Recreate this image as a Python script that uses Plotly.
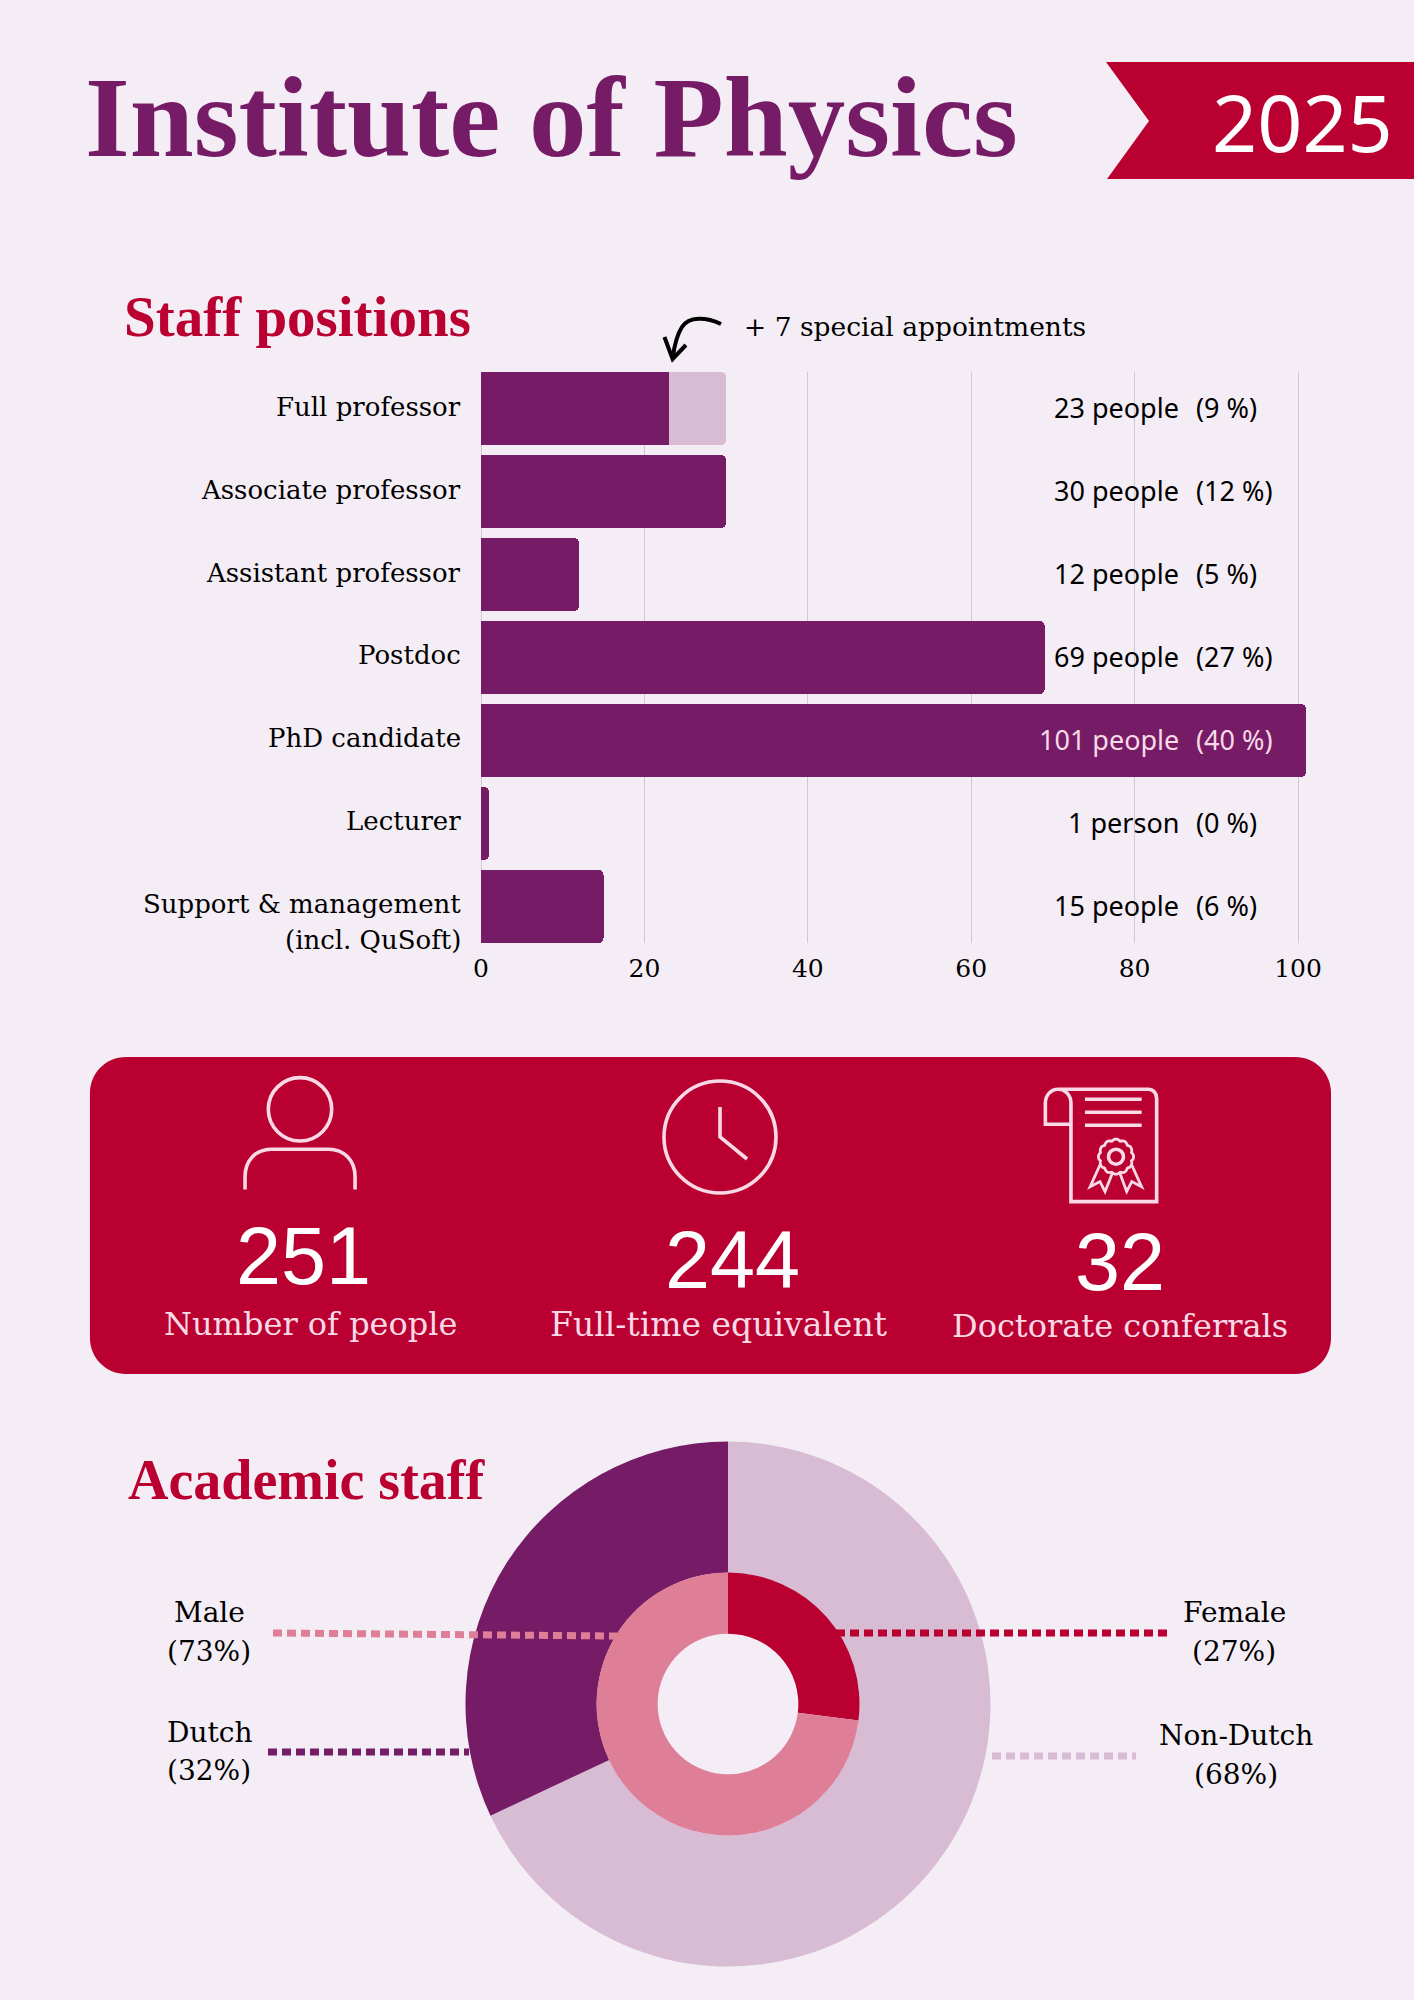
import numpy as np
import plotly.graph_objects as go

W, H = 1414, 2000

# colours
BG = '#F5EDF5'
PURPLE = '#761C66'
CRIMSON = '#B90030'
LILAC = '#D7BCD3'
ROSE = '#DE7F97'
PALE = '#FAD9E6'
GRID = '#CFC9D1'

SERIF = 'DejaVu Serif'
HEAD = 'Liberation Serif'
SANS = 'Noto Sans'

# data
positions = ['Full professor', 'Associate professor', 'Assistant professor', 'Postdoc',
             'PhD candidate', 'Lecturer', 'Support & management']
regular = [23, 30, 12, 69, 101, 1, 15]
special = [7, None, None, None, None, None, None]
people_text = ['23 people', '30 people', '12 people', '69 people', '101 people', '1 person', '15 people']
share_text = ['(9 %)', '(12 %)', '(5 %)', '(27 %)', '(40 %)', '(0 %)', '(6 %)']
x_ticks = [0, 20, 40, 60, 80, 100]

gender_labels = ['Female', 'Male']
gender_values = [27, 73]
origin_labels = ['Non-Dutch', 'Dutch']
origin_values = [68, 32]

stat_numbers = ['251', '244', '32']
stat_labels = ['Number of people', 'Full-time equivalent', 'Doctorate conferrals']


def px(x):
    return x / W


def py(y):
    return 1 - y / H


def label(x, y, s, size, color='black', family=SERIF, anchor='center', bold=False):
    return dict(x=px(x), y=py(y), xref='paper', yref='paper', text='<b>%s</b>' % s if bold else s,
                showarrow=False, xanchor=anchor, yanchor='middle',
                font=dict(size=size, color=color, family=family))


def path_shape(path, color, width=3.6, fill=None):
    return dict(type='path', path=path, xref='paper', yref='paper', layer='above',
                line=dict(color=color, width=width), fillcolor=fill or 'rgba(0,0,0,0)')


def P(*pts):
    # pixel points to a plain polyline path
    return 'M' + ' L'.join('%.4f,%.4f' % (px(a), py(b)) for a, b in pts)


def curve(start, *segs):
    s = 'M%.4f,%.4f' % (px(start[0]), py(start[1]))
    for seg in segs:
        if len(seg) == 2:
            s += ' L%.4f,%.4f' % (px(seg[0]), py(seg[1]))
        else:
            s += ' C%.4f,%.4f %.4f,%.4f %.4f,%.4f' % (px(seg[0]), py(seg[1]), px(seg[2]), py(seg[3]), px(seg[4]), py(seg[5]))
    return s


def circle(cx, cy, r, color, width=3.6):
    return dict(type='circle', xref='paper', yref='paper', layer='above',
                x0=px(cx - r), x1=px(cx + r), y0=py(cy + r), y1=py(cy - r),
                line=dict(color=color, width=width), fillcolor='rgba(0,0,0,0)')


def leader(x0, y0, x1, y1, color):
    return dict(type='line', xref='paper', yref='paper', layer='above',
                x0=px(x0), x1=px(x1), y0=py(y0), y1=py(y1),
                line=dict(color=color, width=7, dash='9px,5px'))


def pie_domain(cx, cy, r):
    return dict(x=[px(cx - r), px(cx + r)], y=[py(cy + r), py(cy - r)])


fig = go.Figure()

fig.add_trace(go.Bar(y=positions, x=regular, orientation='h', marker=dict(color=PURPLE, line=dict(width=0)),
                     name='Regular'))
fig.add_trace(go.Bar(y=positions, x=special, orientation='h', marker=dict(color=LILAC, line=dict(width=0)),
                     name='Special appointments'))

PIE_X, PIE_Y = 728, 1704
fig.add_trace(go.Pie(labels=origin_labels, values=origin_values, sort=False, direction='clockwise', rotation=0,
                     hole=0.5, domain=pie_domain(PIE_X, PIE_Y, 262.5), textinfo='none',
                     marker=dict(colors=[LILAC, PURPLE], line=dict(width=0))))
fig.add_trace(go.Pie(labels=gender_labels, values=gender_values, sort=False, direction='clockwise', rotation=0,
                     hole=0.535, domain=pie_domain(PIE_X, PIE_Y, 131.5), textinfo='none',
                     marker=dict(colors=[CRIMSON, ROSE], line=dict(width=0))))

shapes = []
# year ribbon and stat card
shapes.append(dict(type='path', xref='paper', yref='paper', layer='below', line=dict(width=0), fillcolor=CRIMSON,
                   path=P((1106, 62), (1414, 62), (1414, 179), (1107, 179), (1149, 121)) + ' Z'))
R = 36
shapes.append(dict(type='path', xref='paper', yref='paper', layer='below', line=dict(width=0), fillcolor=CRIMSON,
                   path=curve((90 + R, 1057), (1331 - R, 1057), (1331 - 16, 1057, 1331, 1073, 1331, 1057 + R),
                              (1331, 1374 - R), (1331, 1358, 1315, 1374, 1331 - R, 1374), (90 + R, 1374),
                              (106, 1374, 90, 1358, 90, 1374 - R), (90, 1057 + R),
                              (90, 1073, 106, 1057, 90 + R, 1057)) + ' Z'))

# person icon
shapes.append(circle(300, 1109.3, 31.7, PALE))
shapes.append(path_shape(curve((245, 1189.3), (245, 1176.7), (245, 1160, 256, 1149.3, 271.7, 1149.3),
                               (328.3, 1149.3), (344, 1149.3, 355, 1160, 355, 1176.7), (355, 1189.3)), PALE))
# clock icon
shapes.append(circle(720, 1137, 56, PALE))
shapes.append(path_shape(P((720, 1107), (720, 1137), (747, 1159)), PALE))
# certificate icon
shapes.append(path_shape(curve((1058.3, 1089.3), (1148.3, 1089.3), (1153, 1089.3, 1156.7, 1093, 1156.7, 1098.3),
                               (1156.7, 1201.7), (1071, 1201.7), (1071, 1103.3),
                               (1071, 1095, 1065, 1089.3, 1058.3, 1089.3),
                               (1051, 1089.3, 1045.3, 1095, 1045.3, 1103.3), (1045.3, 1124.3), (1071, 1124.3)), PALE))
for yy in [1099.3, 1112.3, 1125.3]:
    shapes.append(path_shape(P((1085, yy), (1141.7, yy)), PALE))
shapes.append(circle(1116, 1156.7, 7.5, PALE))
ang = np.linspace(0, 2 * np.pi, 97)
rad = 16 + 1.6 * np.abs(np.cos(ang * 6))
shapes.append(path_shape(P(*zip(1116 + rad * np.sin(ang), 1156.7 + rad * np.cos(ang))), PALE, width=2.8))
shapes.append(path_shape(P((1100, 1165), (1090, 1186.7), (1100, 1181.7), (1105, 1191.7), (1112.3, 1173.3)), PALE, width=2.8))
shapes.append(path_shape(P((1131.7, 1165), (1141.7, 1186.7), (1131.7, 1181.7), (1126.7, 1191.7), (1120, 1173.3)), PALE, width=2.8))

# arrow towards the special appointments
shapes.append(path_shape(curve((721, 324), (706, 317, 689, 316, 682, 327), (676, 336, 674, 348, 672.7, 358)), 'black', width=4))
shapes.append(path_shape(P((664.5, 337), (672.7, 359), (686, 345)), 'black', width=4))

# leader lines of the donut
shapes.append(leader(273, 1633, 617, 1636, ROSE))
shapes.append(leader(836, 1633, 1169, 1633, CRIMSON))
shapes.append(leader(268, 1752, 469, 1752, PURPLE))
shapes.append(leader(992, 1756, 1136, 1756, LILAC))

ann = []
ann.append(label(83, 118, 'Institute of Physics', 115, PURPLE, HEAD, 'left', True))
ann.append(label(1302, 121, '2025', 79, 'white', SANS))
ann.append(label(122, 317, 'Staff positions', 57, CRIMSON, HEAD, 'left', True))
ann.append(label(742, 326, '+ 7 special appointments', 26.5, 'black', SERIF, 'left'))

for name in positions:
    ann.append(dict(x=0, y=name, xref='x', yref='y', text=name, showarrow=False, xanchor='right', yanchor='middle',
                    xshift=-18, yshift=2, font=dict(size=26, family=SERIF, color='black')))
ann.append(dict(x=0, y=positions[-1], xref='x', yref='y', text='(incl. QuSoft)', showarrow=False, xanchor='right',
                yanchor='middle', xshift=-18, yshift=-34, font=dict(size=26, family=SERIF, color='black')))

for name, who, share in zip(positions, people_text, share_text):
    col = PALE if name == 'PhD candidate' else 'black'
    ann.append(dict(x=px(1181), y=name, xref='paper', yref='y', text=who, showarrow=False, xanchor='right',
                    yanchor='middle', yshift=1, font=dict(size=27, family=SANS, color=col)))
    ann.append(dict(x=px(1194), y=name, xref='paper', yref='y', text=share, showarrow=False, xanchor='left',
                    yanchor='middle', yshift=1, font=dict(size=27, family=SANS, color=col)))

for s, xc, y1 in zip(stat_numbers, [303, 732, 1120], [1256, 1260, 1262]):
    ann.append(label(xc, y1, s, 81, 'white', 'Liberation Sans'))
for t, xc, y2, fs in zip(stat_labels, [310, 718, 1120], [1324, 1324, 1326], [32, 33, 32]):
    ann.append(label(xc, y2, t, fs, PALE, SERIF))

ann.append(label(126, 1480, 'Academic staff', 56, CRIMSON, HEAD, 'left', True))
for name, value, xc, y1, y2 in [(gender_labels[1], gender_values[1], 209, 1612, 1651),
                                (origin_labels[1], origin_values[1], 209, 1732, 1770),
                                (gender_labels[0], gender_values[0], 1234, 1612, 1651),
                                (origin_labels[0], origin_values[0], 1236, 1735, 1774)]:
    ann.append(label(xc, y1, name, 28))
    ann.append(label(xc, y2, '(%d%%)' % value, 28))

fig.update_layout(
    width=W, height=H,
    margin=dict(l=0, r=0, t=0, b=0),
    autosize=False,
    paper_bgcolor=BG,
    plot_bgcolor='rgba(0,0,0,0)',
    showlegend=False,
    barmode='stack',
    bargap=0.12,
    barcornerradius=5,
    shapes=shapes,
    annotations=ann,
    xaxis=dict(domain=[px(481), px(1321)], range=[0, (1321 - 481) / 8.17], tickvals=x_ticks, automargin=False,
               showgrid=True, gridcolor=GRID, gridwidth=1, zeroline=True, zerolinecolor=GRID, zerolinewidth=1,
               ticks='', showline=False, ticklabelstandoff=8, tickfont=dict(family=SERIF, size=25, color='black')),
    yaxis=dict(domain=[py(943), py(372)], range=[6.44, -0.44], type='category', categoryorder='array', automargin=False,
               categoryarray=positions, showticklabels=False, showgrid=False, zeroline=False, ticks=''),
)

fig.write_html('out.html', post_script="document.body.style.margin='0';", config=dict(displayModeBar=False))
